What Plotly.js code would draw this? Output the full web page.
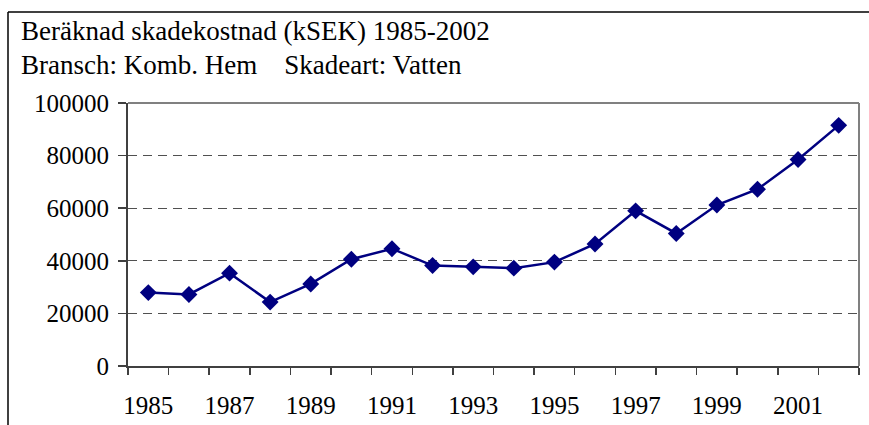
<!DOCTYPE html>
<html><head><meta charset="utf-8">
<script src="https://cdn.plot.ly/plotly-3.0.1.min.js"></script>
<style>html,body{margin:0;padding:0;background:#fff;}#chart{width:869px;height:425px;}</style>
</head><body><div id="chart"></div>
<script>
const years = [1985,1986,1987,1988,1989,1990,1991,1992,1993,1994,1995,1996,1997,1998,1999,2000,2001,2002];
const kostnad = [27900,27200,35300,24300,31200,40600,44600,38200,37700,37200,39500,46400,59000,50400,61200,67200,78500,91500];
const xTickVals = [1985,1987,1989,1991,1993,1995,1997,1999,2001];
const xTickText = ['1985','1987','1989','1991','1993','1995','1997','1999','2001'];
const yTickVals = [0,20000,40000,60000,80000,100000];
const yTickText = ['0','20000','40000','60000','80000','100000'];
const titleLine1 = 'Beräknad skadekostnad (kSEK) 1985-2002';
const titleLine2 = 'Bransch: Komb. Hem&nbsp;&nbsp;&nbsp;&nbsp;Skadeart: Vatten';

const W = 869, H = 425;
const L = 128, R = 10, T = 103, B = 59;
const pw = W - L - R, ph = H - T - B;
const px = v => (v - L) / pw;
const py = v => (H - B - v) / ph;
const FONT = '"Liberation Serif", "Times New Roman", serif';

const trace = {
  x: years, y: kostnad, type: 'scatter', mode: 'lines+markers',
  line: {color: '#000080', width: 2.5},
  marker: {symbol: 'diamond', size: 13, color: '#000080'},
  hoverinfo: 'x+y'
};

const layout = {
  width: W, height: H,
  margin: {l: L, r: R, t: T, b: B, pad: 0},
  paper_bgcolor: '#fff', plot_bgcolor: '#fff',
  showlegend: false,
  font: {family: FONT, size: 25, color: '#000'},
  xaxis: {
    range: [1984.5, 2002.5], fixedrange: true,
    tickmode: 'array', tickvals: xTickVals, ticktext: xTickText,
    ticks: '', showgrid: false, zeroline: false,
    showline: true, linecolor: '#404040', linewidth: 2,
    ticklabelstandoff: 16,
    tickfont: {family: FONT, size: 25, color: '#000'},
    minor: {tick0: 1984.5, dtick: 1, ticks: 'outside', ticklen: 7, tickwidth: 1.5, tickcolor: '#404040', showgrid: false}
  },
  yaxis: {
    range: [0, 100000], fixedrange: true,
    tickmode: 'array', tickvals: yTickVals, ticktext: yTickText,
    ticks: 'outside', ticklen: 8, tickwidth: 1.5, tickcolor: '#404040',
    showgrid: true, gridcolor: '#505050', gridwidth: 1, griddash: '9px,6px',
    zeroline: false, showline: true, linecolor: '#404040', linewidth: 2,
    ticklabelstandoff: 4,
    tickfont: {family: FONT, size: 25, color: '#000'}
  },
  shapes: [
    {type: 'line', xref: 'paper', yref: 'paper', x0: 0, x1: 1, y0: 1, y1: 1, line: {color: '#808080', width: 2}},
    {type: 'line', xref: 'paper', yref: 'paper', x0: 1, x1: 1, y0: 0, y1: 1, line: {color: '#808080', width: 2}},
    {type: 'line', xref: 'paper', yref: 'paper', x0: px(8), x1: px(870), y0: py(12), y1: py(12), line: {color: '#000', width: 1.5}},
    {type: 'line', xref: 'paper', yref: 'paper', x0: px(8), x1: px(8), y0: py(12), y1: py(430), line: {color: '#000', width: 1.5}}
  ],
  annotations: [
    {text: titleLine1, xref: 'paper', yref: 'paper', x: px(19), y: py(31), xanchor: 'left', yanchor: 'middle', showarrow: false, font: {family: FONT, size: 27, color: '#000'}},
    {text: titleLine2, xref: 'paper', yref: 'paper', x: px(19), y: py(65), xanchor: 'left', yanchor: 'middle', showarrow: false, font: {family: FONT, size: 27, color: '#000'}}
  ]
};

Plotly.newPlot('chart', [trace], layout, {displayModeBar: false, staticPlot: true});
</script></body></html>
